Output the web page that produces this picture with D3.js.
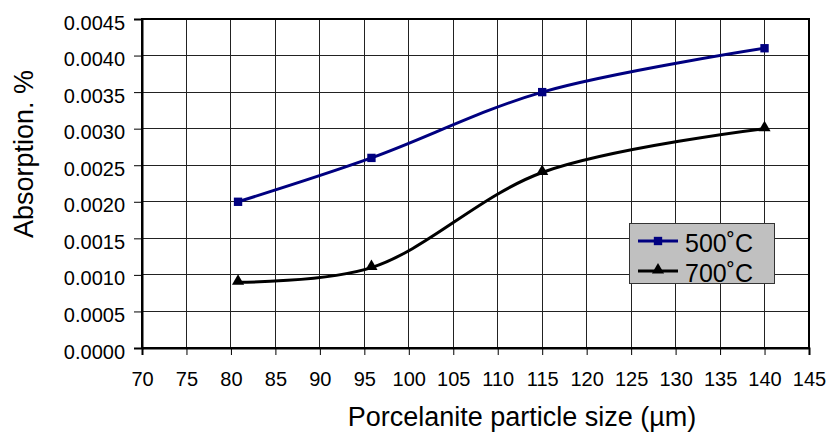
<!DOCTYPE html>
<html><head><meta charset="utf-8">
<script src="https://cdn.jsdelivr.net/npm/d3@7"></script>
<style>body{margin:0;background:#fff}svg{display:block}</style>
</head><body><svg id="c" width="831" height="432"></svg>
<script>
const sizes = [80.8, 95.8, 115, 140];
const s500 = [0.0020, 0.0026, 0.0035, 0.0041];
const s700 = [0.0009, 0.0011, 0.0024, 0.0030];
const seriesNames = ["500˚C", "700˚C"];
const xTicks = [70,75,80,85,90,95,100,105,110,115,120,125,130,135,140,145];
const yTicks = [0,0.0005,0.001,0.0015,0.002,0.0025,0.003,0.0035,0.004,0.0045];

const svg = d3.select("#c");
const L=142, R=809, T=19, B=348;
const x = d3.scaleLinear().domain([70,145]).range([L,R]);
const y = d3.scaleLinear().domain([0,0.0045]).range([B,T]);
const font = "'Liberation Sans', Arial, sans-serif";

const g = svg.append("g");
g.selectAll(".vg").data(xTicks).enter().append("line")
  .attr("x1",d=>x(d)).attr("x2",d=>x(d)).attr("y1",T).attr("y2",B)
  .attr("stroke","#222").attr("stroke-width",1).attr("shape-rendering","crispEdges");
g.selectAll(".hg").data(yTicks).enter().append("line")
  .attr("x1",L).attr("x2",R).attr("y1",d=>y(d)).attr("y2",d=>y(d))
  .attr("stroke","#222").attr("stroke-width",1).attr("shape-rendering","crispEdges");
g.append("rect").attr("x",L).attr("y",T).attr("width",R-L).attr("height",B-T)
  .attr("fill","none").attr("stroke","#000").attr("stroke-width",2);

const xa = svg.append("g").attr("transform",`translate(0,${B})`)
  .call(d3.axisBottom(x).tickValues(xTicks).tickSize(7).tickPadding(0).tickFormat(d3.format("d")));
xa.select(".domain").attr("stroke","#000").attr("stroke-width",2);
xa.selectAll(".tick line").attr("stroke","#000");
xa.selectAll(".tick text").attr("y",38).attr("dy",0).attr("font-size","20px").attr("font-family",font).attr("fill","#000");

const ya = svg.append("g").attr("transform",`translate(${L},0)`)
  .call(d3.axisLeft(y).tickValues(yTicks).tickSize(8).tickPadding(0).tickFormat(d3.format(".4f")));
ya.select(".domain").attr("stroke","#000").attr("stroke-width",2);
ya.selectAll(".tick line").attr("stroke","#000");
ya.selectAll(".tick text").attr("x",-17).attr("dy",0).attr("y",10).attr("font-size","20px").attr("font-family",font).attr("fill","#000");

svg.append("text").attr("x",522).attr("y",426).attr("text-anchor","middle")
  .attr("font-size","27px").attr("font-family",font).text("Porcelanite particle size (µm)");
svg.append("text").attr("transform","translate(33,154) rotate(-90)").attr("text-anchor","middle")
  .attr("font-size","27px").attr("font-family",font).text("Absorption. %");

const line = d3.line().x(d=>x(d[0])).y(d=>y(d[1])).curve(d3.curveCatmullRom.alpha(0.5));
const d500 = sizes.map((s,i)=>[s,s500[i]]);
const d700 = sizes.map((s,i)=>[s,s700[i]]);
svg.append("path").attr("d",line(d500)).attr("fill","none").attr("stroke","#000080").attr("stroke-width",3);
svg.append("path").attr("d",line(d700)).attr("fill","none").attr("stroke","#000").attr("stroke-width",3);
const sq = d3.symbol().type(d3.symbolSquare).size(70);
const tri = d3.symbol().type(d3.symbolTriangle).size(64);
svg.selectAll(".m5").data(d500).enter().append("path").attr("d",sq)
  .attr("transform",d=>`translate(${x(d[0])},${y(d[1])})`).attr("fill","#000080");
svg.selectAll(".m7").data(d700).enter().append("path").attr("d",tri)
  .attr("transform",d=>`translate(${x(d[0])},${y(d[1])-1})`).attr("fill","#000");

const lg = svg.append("g");
lg.append("rect").attr("x",629.5).attr("y",223.5).attr("width",145).attr("height",60)
  .attr("fill","#c0c0c0").attr("stroke","#333").attr("stroke-width",1);
const items = [{name:seriesNames[0],c:"#000080",sym:sq,ly:241},{name:seriesNames[1],c:"#000",sym:tri,ly:271}];
items.forEach(it=>{
  lg.append("line").attr("x1",638).attr("x2",678).attr("y1",it.ly).attr("y2",it.ly).attr("stroke",it.c).attr("stroke-width",3);
  lg.append("path").attr("d",it.sym).attr("transform",`translate(658,${it.ly - (it.c==="#000"?1:0)})`).attr("fill",it.c);
  lg.append("text").attr("x",685).attr("y",it.ly+11).attr("font-size","25px").attr("font-family",font).text(it.name);
});
</script></body></html>
